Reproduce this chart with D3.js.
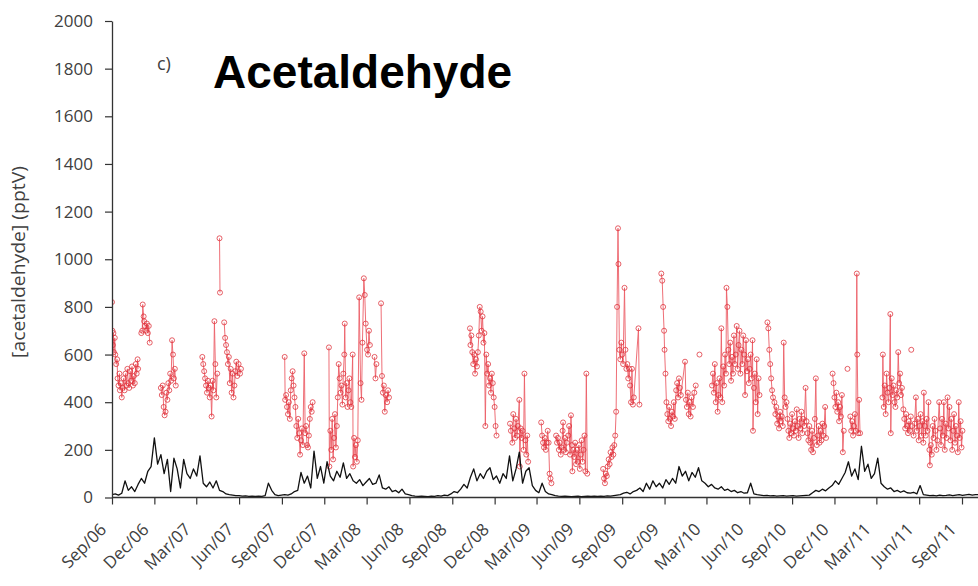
<!DOCTYPE html>
<html><head><meta charset="utf-8">
<script src="https://cdn.jsdelivr.net/npm/d3@7/dist/d3.min.js"></script>
<style>
html,body{margin:0;padding:0;background:#fff;}
svg{display:block;}
</style></head>
<body>
<svg id="chart" width="978" height="586"></svg>
<script>
// ---------- DATA ----------
const chartTitle = "Acetaldehyde";
const panelLabel = "c)";
const yAxisTitle = "[acetaldehyde] (pptV)";
const yTicks = [0,200,400,600,800,1000,1200,1400,1600,1800,2000];
const xTickDates = ["2006-09-01","2006-12-01","2007-03-01","2007-06-01","2007-09-01","2007-12-01",
  "2008-03-01","2008-06-01","2008-09-01","2008-12-01","2009-03-01","2009-06-01","2009-09-01",
  "2009-12-01","2010-03-01","2010-06-01","2010-09-01","2010-12-01","2011-03-01","2011-06-01","2011-09-01"];

// background (black) series: weekly samples from 2006-09-01
const blackStart = "2006-09-01";
const blackStepDays = 7;
const blackValues = [
 12,15,10,18,70,30,45,25,55,80,
 60,110,130,250,140,180,100,160,25,165,
 120,40,160,100,80,120,90,175,60,45,
 65,40,70,30,25,15,12,10,8,8,
 6,7,5,6,5,6,5,8,60,30,
 12,8,10,12,10,15,25,30,105,60,
 90,40,195,80,130,60,150,90,70,110,
 85,145,80,100,70,60,75,50,65,80,
 55,60,95,40,35,45,25,30,20,35,
 15,12,8,6,5,6,5,4,6,5,
 8,6,10,8,15,25,20,35,55,40,
 85,120,70,100,80,110,125,75,90,60,
 100,80,175,70,120,190,60,110,125,50,
 30,20,60,25,15,12,8,6,5,6,
 5,4,5,6,4,5,6,5,6,5,
 6,5,7,6,8,10,12,18,22,15,
 25,30,40,25,60,35,70,45,60,40,
 75,55,80,60,130,90,110,70,105,85,
 125,70,60,45,55,40,35,45,30,35,
 25,30,20,25,18,20,60,15,12,10,
 8,9,7,8,6,7,8,6,7,8,
 6,7,8,9,10,20,30,25,35,28,
 40,50,70,55,80,105,150,90,120,75,
 215,110,140,80,100,165,60,45,35,40,
 25,30,22,28,20,18,22,15,50,12,
 10,8,9,7,10,8,9,11,8,10,
 12,9,11,13,10,12,12
];

// measured (red) series: [date, value]; null = gap in the line
const redPoints = [
 ["2006-09-01",820],["2006-09-02",700],["2006-09-03",640],["2006-09-04",690],["2006-09-05",610],["2006-09-07",670],
 ["2006-09-08",600],["2006-09-10",560],["2006-09-12",580],["2006-09-13",500],["2006-09-15",470],["2006-09-17",520],
 ["2006-09-18",450],["2006-09-20",480],["2006-09-22",420],["2006-09-24",460],["2006-09-26",500],["2006-09-28",450],
 ["2006-09-30",520],["2006-10-02",470],["2006-10-04",540],["2006-10-06",480],["2006-10-08",460],["2006-10-10",530],
 ["2006-10-12",490],["2006-10-14",550],["2006-10-16",470],["2006-10-18",510],["2006-10-20",480],["2006-10-22",560],
 ["2006-10-24",520],["2006-10-26",580],["2006-10-27",540],
 null,
 ["2006-11-03",690],["2006-11-05",700],["2006-11-06",810],["2006-11-08",760],["2006-11-09",740],["2006-11-11",720],
 ["2006-11-13",700],["2006-11-15",730],["2006-11-17",690],["2006-11-19",720],["2006-11-21",650],
 null,
 ["2006-12-15",460],["2006-12-17",430],["2006-12-19",470],["2006-12-21",380],["2006-12-23",345],["2006-12-25",360],
 ["2006-12-27",440],["2006-12-29",410],["2006-12-31",480],["2007-01-02",450],["2007-01-04",520],["2007-01-06",490],
 ["2007-01-08",660],["2007-01-10",600],["2007-01-12",500],["2007-01-14",540],["2007-01-16",470],
 null,
 ["2007-03-14",590],["2007-03-16",560],["2007-03-18",530],["2007-03-20",500],["2007-03-22",470],["2007-03-24",440],
 ["2007-03-26",490],["2007-03-28",460],["2007-03-30",420],["2007-04-01",470],["2007-04-03",340],["2007-04-05",490],
 ["2007-04-07",450],["2007-04-09",740],["2007-04-11",560],["2007-04-13",420],["2007-04-15",520],
 null,
 ["2007-04-20",1088],["2007-04-21",860],
 null,
 ["2007-04-30",735],["2007-05-02",670],["2007-05-04",640],["2007-05-06",610],["2007-05-08",560],["2007-05-10",590],
 ["2007-05-12",480],["2007-05-14",540],["2007-05-16",440],["2007-05-18",520],["2007-05-20",420],["2007-05-22",470],
 ["2007-05-24",530],["2007-05-26",570],["2007-05-28",510],["2007-05-31",560],["2007-06-03",520],["2007-06-05",540],
 null,
 ["2007-09-07",590],["2007-09-08",410],["2007-09-10",430],["2007-09-12",380],["2007-09-14",350],["2007-09-16",400],
 ["2007-09-18",330],["2007-09-20",450],["2007-09-22",500],["2007-09-24",530],["2007-09-26",470],["2007-09-28",420],
 ["2007-09-30",380],["2007-10-02",300],["2007-10-04",250],["2007-10-06",330],["2007-10-08",270],["2007-10-10",180],
 ["2007-10-12",240],["2007-10-14",290],["2007-10-16",220],["2007-10-19",605],["2007-10-21",270],["2007-10-23",300],
 ["2007-10-25",220],["2007-10-27",210],["2007-10-29",260],["2007-10-31",330],["2007-11-02",380],["2007-11-04",360],
 ["2007-11-06",400],
 null,
 ["2007-12-11",630],["2007-12-12",130],["2007-12-14",280],["2007-12-16",200],["2007-12-18",330],["2007-12-20",160],
 ["2007-12-22",250],["2007-12-24",350],["2007-12-26",210],["2007-12-28",300],["2007-12-30",420],["2008-01-01",560],
 ["2008-01-03",500],["2008-01-05",440],["2008-01-07",470],["2008-01-09",390],["2008-01-11",520],["2008-01-13",600],
 ["2008-01-14",730],["2008-01-16",420],["2008-01-18",480],["2008-01-20",380],["2008-01-22",450],["2008-01-24",500],
 ["2008-01-26",400],["2008-01-28",380],["2008-01-31",600],["2008-02-01",130],["2008-02-03",250],["2008-02-05",170],
 ["2008-02-07",220],["2008-02-09",150],["2008-02-11",240],["2008-02-14",840],["2008-02-17",480],["2008-02-19",410],
 ["2008-02-21",650],["2008-02-24",920],["2008-02-26",850],["2008-02-28",730],["2008-03-02",620],["2008-03-04",600],
 ["2008-03-06",700],["2008-03-08",640],
 null,
 ["2008-03-18",590],["2008-03-20",500],["2008-03-22",560],
 null,
 ["2008-04-01",815],["2008-04-03",510],["2008-04-05",440],["2008-04-07",470],["2008-04-09",360],["2008-04-11",430],
 ["2008-04-14",400],["2008-04-16",450],["2008-04-18",420],
 null,
 ["2008-10-09",710],["2008-10-10",640],["2008-10-12",680],["2008-10-14",610],["2008-10-16",560],["2008-10-18",600],
 ["2008-10-20",520],["2008-10-22",580],["2008-10-24",550],["2008-10-26",610],["2008-10-28",680],["2008-10-30",800],
 ["2008-11-01",780],["2008-11-03",700],["2008-11-05",760],["2008-11-07",650],["2008-11-09",690],["2008-11-11",300],
 ["2008-11-13",600],["2008-11-15",520],["2008-11-17",560],["2008-11-19",470],["2008-11-21",500],["2008-11-23",440],
 ["2008-11-25",520],["2008-11-27",480],["2008-11-29",420],["2008-12-01",380],["2008-12-03",300],["2008-12-05",260],
 null,
 ["2009-01-03",310],["2009-01-05",280],["2009-01-08",230],["2009-01-10",350],["2009-01-12",290],["2009-01-14",250],
 ["2009-01-16",330],["2009-01-18",260],["2009-01-20",300],["2009-01-23",410],["2009-01-24",130],["2009-01-26",290],
 ["2009-01-28",250],["2009-01-30",280],["2009-02-01",200],["2009-02-03",520],["2009-02-05",240],["2009-02-07",180],
 ["2009-02-09",260],["2009-02-11",150],
 null,
 ["2009-03-11",315],["2009-03-13",260],["2009-03-15",230],["2009-03-17",210],["2009-03-19",250],["2009-03-21",200],
 ["2009-03-23",230],["2009-03-25",280],["2009-03-27",230],["2009-03-29",100],["2009-03-31",80],["2009-04-02",60],
 null,
 ["2009-04-12",260],["2009-04-14",230],["2009-04-16",250],["2009-04-18",200],["2009-04-20",230],["2009-04-22",180],
 ["2009-04-24",210],["2009-04-26",280],["2009-04-27",315],["2009-04-29",200],["2009-05-01",250],["2009-05-03",190],
 ["2009-05-05",230],["2009-05-08",260],["2009-05-10",300],["2009-05-12",180],["2009-05-14",345],["2009-05-16",220],
 ["2009-05-17",110],["2009-05-19",200],["2009-05-21",170],["2009-05-23",230],["2009-05-25",140],["2009-05-27",200],
 ["2009-05-29",150],["2009-05-31",220],["2009-06-02",120],["2009-06-04",180],["2009-06-06",240],["2009-06-08",150],
 ["2009-06-10",200],["2009-06-12",260],["2009-06-14",110],["2009-06-16",520],["2009-06-18",100],
 null,
 ["2009-07-22",120],["2009-07-24",80],["2009-07-26",60],["2009-07-28",100],["2009-07-30",90],["2009-08-01",130],
 ["2009-08-03",160],["2009-08-05",140],["2009-08-07",190],["2009-08-09",170],["2009-08-11",210],["2009-08-13",180],
 ["2009-08-15",220],["2009-08-17",260],["2009-08-19",360],["2009-08-21",800],["2009-08-23",1130],["2009-08-24",980],
 ["2009-08-26",620],["2009-08-28",580],["2009-08-30",650],["2009-09-01",600],["2009-09-03",560],["2009-09-06",880],
 ["2009-09-08",620],["2009-09-10",540],["2009-09-12",560],["2009-09-14",500],["2009-09-16",540],["2009-09-18",470],
 ["2009-09-20",400],["2009-09-22",540],["2009-09-24",390],["2009-09-26",420],["2009-10-06",710],["2009-10-08",390],
 null,
 ["2009-11-24",940],["2009-11-26",910],["2009-11-28",800],["2009-11-30",700],["2009-12-01",620],["2009-12-03",520],
 ["2009-12-05",400],["2009-12-07",350],["2009-12-09",320],["2009-12-11",380],["2009-12-13",330],["2009-12-15",300],
 ["2009-12-17",360],["2009-12-19",340],["2009-12-21",400],["2009-12-23",330],["2009-12-26",450],["2009-12-28",480],
 ["2009-12-30",420],["2010-01-01",500],["2010-01-03",460],["2010-01-05",430],["2010-01-14",570],["2010-01-16",410],
 ["2010-01-18",380],["2010-01-20",440],["2010-01-22",350],["2010-01-24",400],["2010-01-26",340],["2010-01-28",420],
 ["2010-01-31",380],["2010-02-03",440],["2010-02-06",470],
 null,
 ["2010-02-14",600],
 null,
 ["2010-03-13",470],["2010-03-15",520],["2010-03-17",440],["2010-03-19",560],["2010-03-21",400],["2010-03-23",480],
 ["2010-03-25",360],["2010-03-27",430],["2010-03-29",500],["2010-03-31",420],["2010-04-02",710],["2010-04-04",400],
 ["2010-04-06",550],["2010-04-08",470],["2010-04-10",600],["2010-04-12",520],["2010-04-13",880],["2010-04-15",800],
 ["2010-04-17",620],["2010-04-19",560],["2010-04-21",650],["2010-04-23",490],["2010-04-25",590],["2010-04-27",520],
 ["2010-04-29",680],["2010-05-01",560],["2010-05-03",600],["2010-05-05",720],["2010-05-07",540],["2010-05-09",640],
 ["2010-05-11",700],["2010-05-13",520],["2010-05-15",620],["2010-05-17",560],["2010-05-19",680],["2010-05-21",600],
 ["2010-05-23",430],["2010-05-25",660],["2010-05-27",530],["2010-05-29",580],["2010-05-31",480],["2010-06-02",540],
 ["2010-06-04",600],["2010-06-06",500],["2010-06-08",660],["2010-06-09",280],["2010-06-11",460],["2010-06-13",520],
 ["2010-06-15",400],["2010-06-17",580],["2010-06-19",350],["2010-06-21",500],["2010-06-23",430],
 null,
 ["2010-07-10",735],["2010-07-12",710],["2010-07-14",620],["2010-07-16",560],["2010-07-18",500],["2010-07-20",450],
 ["2010-07-22",420],["2010-07-25",400],["2010-07-27",350],["2010-07-29",380],["2010-07-31",310],["2010-08-02",340],
 ["2010-08-04",290],["2010-08-06",360],["2010-08-08",320],["2010-08-10",340],["2010-08-12",300],["2010-08-14",650],
 ["2010-08-16",420],["2010-08-18",380],["2010-08-20",400],
 ["2010-08-22",330],["2010-08-24",280],["2010-08-26",250],["2010-08-28",310],["2010-08-30",270],["2010-09-01",350],
 ["2010-09-03",290],["2010-09-05",260],["2010-09-07",320],["2010-09-09",280],["2010-09-11",370],["2010-09-13",300],
 ["2010-09-15",250],["2010-09-17",330],["2010-09-19",290],["2010-09-21",360],["2010-09-23",270],["2010-09-25",330],
 ["2010-09-27",300],["2010-09-30",460],["2010-10-02",320],["2010-10-04",270],["2010-10-06",240],["2010-10-08",300],
 ["2010-10-10",230],["2010-10-12",200],["2010-10-14",280],["2010-10-16",190],["2010-10-18",250],["2010-10-20",330],
 ["2010-10-22",500],["2010-10-24",220],["2010-10-26",260],["2010-10-28",300],["2010-10-30",230],["2010-11-01",280],
 ["2010-11-03",240],["2010-11-05",310],["2010-11-07",260],["2010-11-09",300],["2010-11-11",380],["2010-11-13",250],
 null,
 ["2010-11-27",520],["2010-11-29",480],["2010-12-01",420],["2010-12-03",380],["2010-12-05",440],["2010-12-07",360],
 ["2010-12-09",400],["2010-12-11",320],["2010-12-13",380],["2010-12-15",340],["2010-12-17",430],["2010-12-19",190],
 ["2010-12-21",280],
 null,
 ["2010-12-29",540],
 null,
 ["2011-01-04",340],["2011-01-06",280],["2011-01-08",320],["2011-01-10",260],["2011-01-12",300],["2011-01-14",350],
 ["2011-01-16",280],["2011-01-18",940],["2011-01-19",600],["2011-01-21",270],["2011-01-23",410],["2011-01-25",270],
 null,
 ["2011-03-14",420],["2011-03-15",600],["2011-03-17",380],["2011-03-19",470],["2011-03-21",350],["2011-03-23",520],
 ["2011-03-25",440],["2011-03-27",400],["2011-03-29",460],["2011-03-31",770],["2011-04-01",270],["2011-04-03",500],
 ["2011-04-05",430],["2011-04-07",470],["2011-04-09",400],["2011-04-11",380],["2011-04-13",450],["2011-04-15",420],
 ["2011-04-17",610],["2011-04-19",480],["2011-04-21",520],["2011-04-23",430],["2011-04-25",460],
 ["2011-04-28",370],["2011-04-30",330],["2011-05-02",290],["2011-05-04",350],["2011-05-06",300],["2011-05-08",270],
 ["2011-05-10",320],["2011-05-12",280],["2011-05-14",340],
 null,
 ["2011-05-15",620],
 null,
 ["2011-05-17",300],["2011-05-20",260],["2011-05-22",310],["2011-05-25",420],["2011-05-27",280],["2011-05-29",330],
 ["2011-05-31",240],["2011-06-02",300],["2011-06-04",350],["2011-06-06",260],["2011-06-08",320],["2011-06-10",230],
 ["2011-06-11",440],["2011-06-13",300],["2011-06-15",260],["2011-06-17",330],["2011-06-19",280],["2011-06-21",400],
 ["2011-06-23",200],["2011-06-24",135],["2011-06-26",220],["2011-06-28",180],["2011-06-30",300],["2011-07-02",250],
 ["2011-07-04",330],["2011-07-06",280],["2011-07-08",200],["2011-07-10",240],["2011-07-14",400],["2011-07-16",290],
 ["2011-07-18",220],["2011-07-20",330],["2011-07-22",260],["2011-07-24",400],["2011-07-26",200],["2011-07-28",310],
 ["2011-07-30",250],["2011-08-01",420],["2011-08-03",290],["2011-08-05",380],["2011-08-07",240],["2011-08-09",330],
 ["2011-08-11",200],["2011-08-13",280],["2011-08-15",350],["2011-08-17",230],["2011-08-19",300],["2011-08-21",260],
 ["2011-08-23",190],["2011-08-25",400],["2011-08-27",250],["2011-08-29",320],["2011-08-31",210],["2011-09-02",280]
];

// ---------- DRAW ----------
const W = 978, H = 586;
const parse = d3.utcParse("%Y-%m-%d");
const svg = d3.select("#chart");
const tickFont = "'Open Sans', 'DejaVu Sans', sans-serif";
const textColor = "#404040";

const x = d3.scaleUtc()
  .domain([parse(xTickDates[0]), parse(xTickDates[xTickDates.length - 1])])
  .range([112, 962]);
const y = d3.scaleLinear().domain([0, 2000]).range([497.5, 21]);

const t0 = parse(blackStart);
const black = blackValues.map((v, i) => ({ date: d3.utcDay.offset(t0, i * blackStepDays), value: v }));
const red = redPoints.map(p => p ? { date: parse(p[0]), value: p[1] } : null);

svg.append("clipPath").attr("id", "plotClip")
  .append("rect").attr("x", 112).attr("y", 0).attr("width", W - 112).attr("height", 498);

const plot = svg.append("g").attr("clip-path", "url(#plotClip)");

// red measured series
const redLine = d3.line()
  .defined(d => d !== null)
  .x(d => x(d.date)).y(d => y(d.value));
plot.append("path").datum(red)
  .attr("d", redLine)
  .attr("fill", "none")
  .attr("stroke", "#ec5f68")
  .attr("stroke-width", 1)
  .attr("stroke-opacity", 0.9);
plot.append("g").selectAll("circle")
  .data(red.filter(d => d !== null))
  .join("circle")
  .attr("cx", d => x(d.date)).attr("cy", d => y(d.value))
  .attr("r", 2.5)
  .attr("fill", "none")
  .attr("stroke", "#de2f38")
  .attr("stroke-width", 0.9)
  .attr("stroke-opacity", 0.85);

// black series
const blackLine = d3.line().x(d => x(d.date)).y(d => y(d.value));
plot.append("path").datum(black)
  .attr("d", blackLine)
  .attr("fill", "none")
  .attr("stroke", "#111")
  .attr("stroke-width", 1.3)
  .attr("stroke-linejoin", "round");

// Y axis
const yAxis = d3.axisLeft(y).tickValues(yTicks).tickFormat(d3.format("d"))
  .tickSize(7).tickSizeOuter(0).tickPadding(12);
const gy = svg.append("g").attr("transform", "translate(112,0)").call(yAxis);
gy.select(".domain").attr("stroke", "#333").attr("stroke-width", 1.3);
gy.selectAll(".tick line").attr("stroke", "#333").attr("stroke-width", 1.2);
gy.selectAll(".tick text").attr("font-family", tickFont).attr("font-size", 17).attr("fill", textColor);

// X axis
const xAxis = d3.axisBottom(x).tickValues(xTickDates.map(parse))
  .tickFormat(d3.utcFormat("%b/%y")).tickSize(7).tickSizeOuter(0);
const gx = svg.append("g").attr("transform", "translate(0,497.5)").call(xAxis);
gx.select(".domain").remove();
gx.append("line").attr("x1", 112).attr("x2", W).attr("y1", 0).attr("y2", 0)
  .attr("stroke", "#333").attr("stroke-width", 1.3);
gx.selectAll(".tick line").attr("stroke", "#333").attr("stroke-width", 1.2);
gx.selectAll(".tick text")
  .attr("font-family", tickFont).attr("font-size", 17).attr("fill", textColor)
  .attr("text-anchor", "end")
  .attr("dy", null).attr("y", null)
  .attr("transform", "translate(-5,33) rotate(-45)");

// Y axis title
svg.append("text")
  .attr("transform", "translate(25,262) rotate(-90)")
  .attr("text-anchor", "middle")
  .attr("font-family", tickFont).attr("font-size", 17.5).attr("fill", textColor)
  .attr("textLength", 192).attr("lengthAdjust", "spacingAndGlyphs")
  .text(yAxisTitle);

// panel label and chart title
svg.append("text").attr("x", 157).attr("y", 70)
  .attr("font-family", tickFont).attr("font-size", 18).attr("fill", textColor)
  .text(panelLabel);
svg.append("text").attr("x", 213).attr("y", 88)
  .attr("font-family", "'Liberation Sans', Arial, sans-serif")
  .attr("font-weight", "bold").attr("font-size", 46).attr("fill", "#000")
  .text(chartTitle);
</script>
</body></html>
